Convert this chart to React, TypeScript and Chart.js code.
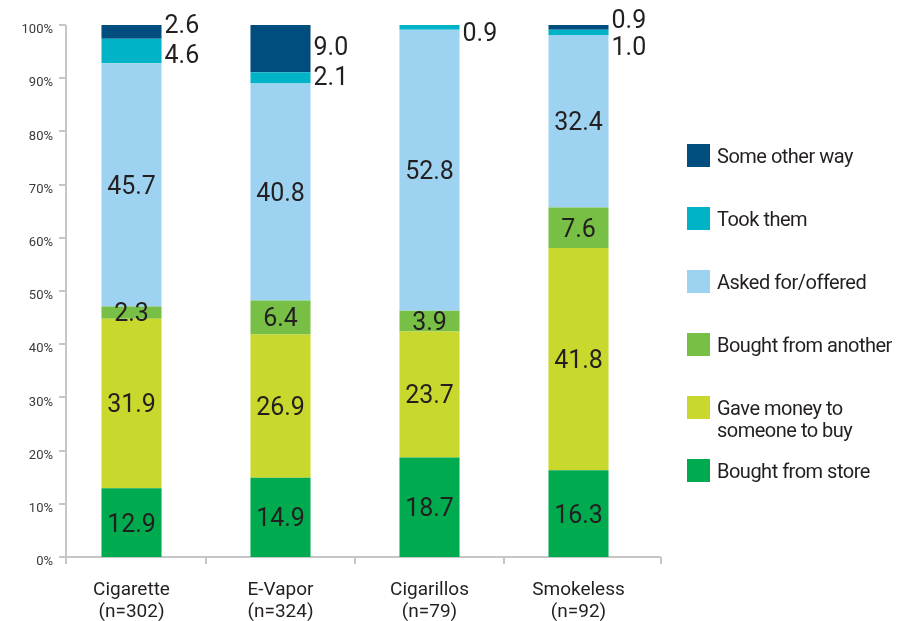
import React, { useEffect, useRef } from 'react';
import { Chart, registerables } from 'chart.js';

Chart.register(...registerables);

// ---------- data ----------
const categories: string[][] = [
  ['Cigarette', '(n=302)'],
  ['E-Vapor', '(n=324)'],
  ['Cigarillos', '(n=79)'],
  ['Smokeless', '(n=92)'],
];

const seriesNames = [
  'Bought from store',
  'Gave money to someone to buy',
  'Bought from another',
  'Asked for/offered',
  'Took them',
  'Some other way',
];

const legendLabels = [
  'Bought from store',
  'Gave money to\nsomeone to buy',
  'Bought from another',
  'Asked for/offered',
  'Took them',
  'Some other way',
];

const boughtFromStore = [12.9, 14.9, 18.7, 16.3];
const gaveMoney = [31.9, 26.9, 23.7, 41.8];
const boughtFromAnother = [2.3, 6.4, 3.9, 7.6];
const askedOffered = [45.7, 40.8, 52.8, 32.4];
const tookThem = [4.6, 2.1, 0.9, 1.0];
const someOtherWay = [2.6, 9.0, 0, 0.9];

const seriesValues = [boughtFromStore, gaveMoney, boughtFromAnother, askedOffered, tookThem, someOtherWay];

// series whose value labels sit to the right of the bar
const outsideSeries = ['Took them', 'Some other way'];

const yTickValues = [0, 10, 20, 30, 40, 50, 60, 70, 80, 90, 100];

// ---------- style ----------
const colors = ['#00aa4f', '#c8d82c', '#77c045', '#9dd3f1', '#00b3c6', '#014d7e'];
const FONT = 'Roboto, "Open Sans", sans-serif';
const TEXT = '#231f20';
const AXIS = '#c6c6c6';
const LABEL_SIZE = 25;
const CAP = 0.711;

const axesPlugin = {
  id: 'customAxes',
  beforeDatasetsDraw(chart: any) {
    const { ctx, chartArea, scales } = chart;
    const { left, right, top, bottom } = chartArea;
    const x = scales.x;
    const y = scales.y;
    const ax = Math.round(left + 9);
    const endX = Math.round(right + 8);
    ctx.save();
    ctx.strokeStyle = AXIS;
    ctx.lineWidth = 2;
    ctx.beginPath();
    ctx.moveTo(ax, top);
    ctx.lineTo(ax, bottom + 7);
    ctx.moveTo(ax - 7, bottom);
    ctx.lineTo(endX, bottom);
    y.ticks.forEach((t: any) => {
      const py = Math.round(y.getPixelForValue(t.value));
      ctx.moveTo(ax - 7, py);
      ctx.lineTo(ax, py);
    });
    const n = chart.data.labels.length;
    const half = (x.getPixelForValue(1) - x.getPixelForValue(0)) / 2;
    for (let i = 0; i < n - 1; i++) {
      const bx = Math.round(x.getPixelForValue(i) + half);
      ctx.moveTo(bx, bottom);
      ctx.lineTo(bx, bottom + 7);
    }
    ctx.moveTo(endX, bottom);
    ctx.lineTo(endX, bottom + 7);
    ctx.stroke();
    ctx.restore();
  },
};

const labelsPlugin = {
  id: 'segmentLabels',
  afterDatasetsDraw(chart: any) {
    const { ctx, chartArea } = chart;
    const n = chart.data.labels.length;
    ctx.save();
    ctx.font = `${LABEL_SIZE}px ${FONT}`;
    ctx.fillStyle = TEXT;
    ctx.textBaseline = 'alphabetic';
    const half = (LABEL_SIZE * CAP) / 2;
    const GAP = 30;
    for (let i = 0; i < n; i++) {
      const outside: { text: string; cy: number; x: number }[] = [];
      chart.data.datasets.forEach((ds: any, di: number) => {
        const v = ds.data[i];
        if (!v) return;
        const bar = chart.getDatasetMeta(di).data[i];
        const p = bar.getProps(['x', 'y', 'base', 'width'], true);
        const cy = (p.y + p.base) / 2;
        const text = v.toFixed(1);
        if (outsideSeries.includes(ds.label)) {
          outside.push({ text, cy, x: p.x + p.width / 2 + 3 });
        } else {
          ctx.textAlign = 'center';
          ctx.fillText(text, p.x, cy + half);
        }
      });
      outside.sort((a, b) => a.cy - b.cy);
      if (outside.length === 2) {
        if (outside[1].cy - outside[0].cy < GAP) {
          const m = (outside[0].cy + outside[1].cy) / 2 - 2;
          outside[0].cy = m - GAP / 2;
          outside[1].cy = m + GAP / 2;
        }
        const minTop = chartArea.top - 6;
        if (outside[0].cy < minTop) outside[0].cy = minTop;
        outside[1].cy = Math.max(outside[1].cy, outside[0].cy + 27);
      } else if (outside.length === 1) {
        outside[0].cy = Math.max(outside[0].cy, chartArea.top + 7);
      }
      ctx.textAlign = 'left';
      outside.forEach((o) => ctx.fillText(o.text, o.x, o.cy + half));
    }
    ctx.restore();
  },
};

function Legend() {
  const order = [5, 4, 3, 2, 1, 0];
  return (
    <div
      style={{
        position: 'absolute',
        left: 687,
        top: 144,
        fontFamily: FONT,
        fontSize: 20,
        letterSpacing: '-0.5px',
        color: TEXT,
      }}
    >
      {order.map((i) => (
        <div key={i} style={{ display: 'flex', alignItems: 'flex-start', height: 63 }}>
          <div style={{ width: 23, height: 23, background: colors[i], flex: 'none' }} />
          <div style={{ marginLeft: 7, lineHeight: '22px', marginTop: 0.5, whiteSpace: 'pre-line' }}>
            {legendLabels[i]}
          </div>
        </div>
      ))}
    </div>
  );
}

export default function App() {
  const ref = useRef<HTMLCanvasElement | null>(null);

  useEffect(() => {
    if (!ref.current) return;
    const chart = new Chart(ref.current, {
      type: 'bar',
      data: {
        labels: categories,
        datasets: seriesNames.map((name, i) => ({
          label: name,
          data: seriesValues[i],
          backgroundColor: colors[i],
          borderWidth: 0,
          categoryPercentage: 1,
          barPercentage: 0.403,
        })),
      },
      options: {
        responsive: false,
        animation: false,
        layout: { padding: { top: 25, right: 252, left: 0, bottom: 0 } },
        plugins: {
          legend: { display: false },
          tooltip: { enabled: false },
        },
        scales: {
          x: {
            stacked: true,
            grid: { display: false, drawTicks: false },
            border: { display: false },
            ticks: {
              color: TEXT,
              font: { family: FONT, size: 19, lineHeight: 22 / 19 },
              padding: 22,
              maxRotation: 0,
              autoSkip: false,
            },
            afterFit(scale: any) {
              scale.height = 64;
            },
          },
          y: {
            stacked: true,
            min: 0,
            max: 100,
            grid: { display: false, drawTicks: false },
            border: { display: false },
            afterBuildTicks(scale: any) {
              scale.ticks = yTickValues.map((v) => ({ value: v }));
            },
            ticks: {
              color: '#3a3a3a',
              font: { family: FONT, size: 13 },
              padding: 4,
              labelOffset: 5,
              callback: (v: any) => `${v}%`,
            },
            afterFit(scale: any) {
              scale.width = 57;
            },
          },
        },
      },
      plugins: [axesPlugin, labelsPlugin],
    });
    return () => chart.destroy();
  }, []);

  return (
    <div style={{ position: 'absolute', left: 0, top: 0, width: 905, height: 621, background: '#fff' }}>
      <canvas ref={ref} width={905} height={621} style={{ display: 'block' }} />
      <Legend />
    </div>
  );
}
